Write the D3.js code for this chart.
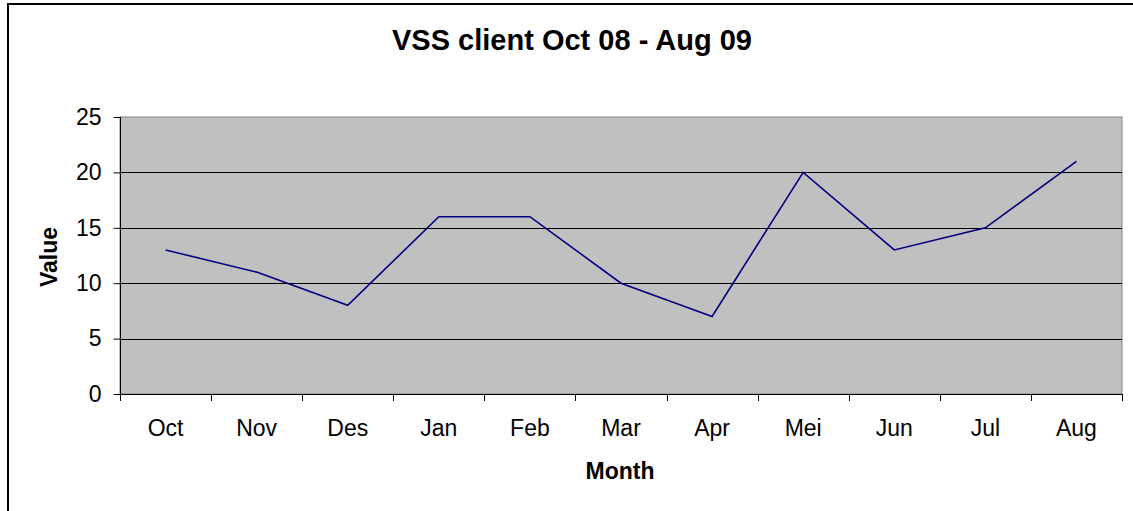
<!DOCTYPE html>
<html><head><meta charset="utf-8">
<script src="https://cdn.jsdelivr.net/npm/d3@7"></script>
<style>body{margin:0;background:#fff}svg{display:block;font-family:"Liberation Sans",Arial,sans-serif}</style>
</head><body>
<svg id="c" width="1133" height="511"></svg>
<script>
const categories = ["Oct","Nov","Des","Jan","Feb","Mar","Apr","Mei","Jun","Jul","Aug"];
const values = [13,11,8,16,16,10,7,20,13,15,21];
const yTicks = [0,5,10,15,20,25];
const title = "VSS client Oct 08 - Aug 09";
const xTitle = "Month";
const yTitle = "Value";

const svg = d3.select("#c");
const L = 120, R = 1122, T = 117, B = 394;

svg.append("rect").attr("x",8).attr("y",4).attr("width",1200).attr("height",600)
  .attr("fill","#fff").attr("stroke","#000").attr("stroke-width",2);

const x = d3.scaleBand().domain(categories).range([L,R]).padding(0);
const y = d3.scaleLinear().domain([0,25]).range([B,T]);

svg.append("rect").attr("x",L).attr("y",T).attr("width",R-L).attr("height",B-T)
  .attr("fill","#c0c0c0").attr("stroke","#808080").attr("stroke-width",1);

svg.append("g").selectAll("line").data(yTicks.filter(d=>d>0 && d<25)).join("line")
  .attr("x1",L).attr("x2",R).attr("y1",d=>Math.round(y(d))+0.5).attr("y2",d=>Math.round(y(d))+0.5)
  .attr("stroke","#000").attr("stroke-width",1);

const yAxis = svg.append("g").attr("transform",`translate(${L+0.5},0)`)
  .call(d3.axisLeft(y).tickValues(yTicks).tickSize(7).tickPadding(12).tickFormat(d3.format("d")));
yAxis.select(".domain").attr("stroke","#000").attr("d",`M0,${T}V${B}`);
yAxis.selectAll(".tick line").attr("stroke","#000");
yAxis.selectAll("text").attr("font-size",23).attr("fill","#000").attr("font-family","Liberation Sans, Arial, sans-serif");

const xAxis = svg.append("g").attr("transform",`translate(0,${B+0.5})`)
  .call(d3.axisBottom(x).tickSize(0));
xAxis.select(".domain").attr("stroke","#000").attr("d",`M${L},0H${R}`);
xAxis.selectAll("text").attr("font-size",23).attr("fill","#000").attr("y",41.5).attr("dy",0)
  .attr("font-family","Liberation Sans, Arial, sans-serif");
svg.append("g").selectAll("line").data(categories.map((c,i)=>i).concat([categories.length])).join("line")
  .attr("x1",i=>Math.round(L+i*x.step())+0.5).attr("x2",i=>Math.round(L+i*x.step())+0.5)
  .attr("y1",B).attr("y2",B+7).attr("stroke","#000");

const line = d3.line().x((d,i)=>x(categories[i])+x.bandwidth()/2).y(d=>y(d));
svg.append("path").datum(values).attr("d",line).attr("fill","none")
  .attr("stroke","#000080").attr("stroke-width",1.6);

svg.append("text").attr("x",572).attr("y",50).attr("text-anchor","middle")
  .attr("font-size",29).attr("font-weight","bold").text(title);
svg.append("text").attr("x",620).attr("y",479).attr("text-anchor","middle")
  .attr("font-size",23).attr("font-weight","bold").text(xTitle);
svg.append("text").attr("transform","translate(57,257) rotate(-90)").attr("text-anchor","middle")
  .attr("font-size",23).attr("font-weight","bold").text(yTitle);
</script>
</body></html>
